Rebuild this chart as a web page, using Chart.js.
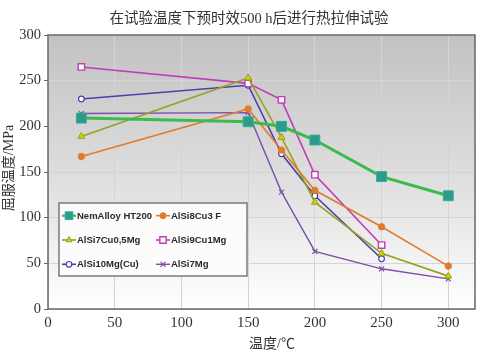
<!DOCTYPE html>
<html><head><meta charset="utf-8">
<script src="https://cdn.jsdelivr.net/npm/chart.js@4/dist/chart.umd.min.js"></script>
<style>html,body{margin:0;padding:0;background:#fff}#w{width:479px;height:357px}</style>
</head><body><div id="w"><canvas id="c" width="479" height="357"></canvas></div>
<script>
const temps = [25, 150, 175, 200, 250, 300];
const seriesNames = ['NemAlloy HT200', 'AlSi8Cu3 F', 'AlSi7Cu0,5Mg', 'AlSi9Cu1Mg', 'AlSi10Mg(Cu)', 'AlSi7Mg'];
const nemAlloy = [209, 205, 200, 185, 145, 124];
const alSi8Cu3 = [167, 219, 174, 130, 90, 47];
const alSi7Cu05Mg = [189, 253, 188, 117, 61, 36];
const alSi9Cu1Mg = [265, 247, 229, 147, 70, null];
const alSi10MgCu = [230, 245, 170, 124, 55, null];
const alSi7Mg = [214, 215, 128, 63, 44, 33];
const xTicks = [0, 50, 100, 150, 200, 250, 300];
const yTicks = [0, 50, 100, 150, 200, 250, 300];
const chartTitle = '在试验温度下预时效500 h后进行热拉伸试验';
const xTitle = '温度/℃';
const yTitle = '屈服温度/MPa';

const values = [nemAlloy, alSi8Cu3, alSi7Cu05Mg, alSi9Cu1Mg, alSi10MgCu, alSi7Mg];
const styles = [
  {line:'#3dba4c', width:3, point:'rect', r:7, fill:'#2b9c8c', border:'#3aa898', bw:1, lr:5.5},
  {line:'#e07c2e', width:1.6, point:'circle', r:3.2, fill:'#e07c2e', border:'#e07c2e', bw:1, lr:3},
  {line:'#98a020', width:1.6, point:'triangle', r:4, fill:'#cdd400', border:'#98a020', bw:1, lr:3.5},
  {line:'#c23cb8', width:1.6, point:'rect', r:4.5, fill:'#ffffff', border:'#c23cb8', bw:1.4, lr:4.5},
  {line:'#4b40a8', width:1.6, point:'circle', r:2.8, fill:'#ffffff', border:'#4b40a8', bw:1.2, lr:2.8},
  {line:'#7b50aa', width:1.4, point:'crossRot', r:3.5, fill:'#7b50aa', border:'#7b50aa', bw:1.2, lr:3.5}
];
const serif = "'Liberation Serif','Noto Sans CJK SC',serif";
const datasets = values.map((v, i) => ({
  label: seriesNames[i],
  data: temps.map((t, j) => ({x: t, y: v[j]})).filter(p => p.y !== null),
  borderColor: styles[i].line,
  borderWidth: styles[i].width,
  pointStyle: styles[i].point,
  pointRadius: styles[i].r,
  pointBackgroundColor: styles[i].fill,
  pointBorderColor: styles[i].border,
  pointBorderWidth: styles[i].bw,
  legendRadius: styles[i].lr,
  tension: 0,
  fill: false
}));

const bgPlugin = {
  id: 'bg',
  beforeDraw(chart) {
    const {ctx, chartArea: a} = chart;
    const g = ctx.createLinearGradient(0, a.top, 0, a.bottom);
    g.addColorStop(0, '#c2c2c2');
    g.addColorStop(0.55, '#e0e0e0');
    g.addColorStop(1, '#ffffff');
    ctx.save(); ctx.fillStyle = g; ctx.fillRect(a.left, a.top, a.right - a.left, a.bottom - a.top); ctx.restore();
  },
  afterDraw(chart) {
    const {ctx, chartArea: a} = chart;
    ctx.save();
    ctx.strokeStyle = '#6e6464'; ctx.lineWidth = 1.5;
    ctx.strokeRect(a.left, a.top, a.right - a.left, a.bottom - a.top);
    // titles
    ctx.fillStyle = '#333';
    ctx.textAlign = 'center'; ctx.textBaseline = 'middle';
    ctx.font = "14.5px " + serif;
    ctx.fillText(chartTitle, 249, 19);
    ctx.font = "14px " + serif;
    ctx.fillText(xTitle, 272, 344);
    ctx.save();
    ctx.translate(9, 168); ctx.rotate(-Math.PI / 2);
    ctx.font = "14px " + serif;
    ctx.fillText(yTitle, 0, 0);
    ctx.restore();
    // legend
    const bx = 59, by = 203, bw = 188, bh = 73;
    ctx.fillStyle = 'rgba(252,252,252,0.95)';
    ctx.fillRect(bx, by, bw, bh);
    ctx.strokeStyle = '#6e6464'; ctx.lineWidth = 1.3;
    ctx.strokeRect(bx, by, bw, bh);
    ctx.font = "bold 9.5px 'Liberation Sans',Arial,sans-serif";
    ctx.textAlign = 'left'; ctx.textBaseline = 'middle';
    chart.data.datasets.forEach((ds, i) => {
      const col = i % 2, row = Math.floor(i / 2);
      const x0 = col === 0 ? 62 : 156, y0 = 215.7 + row * 24.3;
      ctx.strokeStyle = ds.borderColor; ctx.lineWidth = Math.min(ds.borderWidth, 2.2);
      ctx.beginPath(); ctx.moveTo(x0, y0); ctx.lineTo(x0 + 14, y0); ctx.stroke();
      ctx.fillStyle = ds.pointBackgroundColor; ctx.strokeStyle = ds.pointBorderColor; ctx.lineWidth = ds.pointBorderWidth;
      Chart.helpers.drawPoint(ctx, {pointStyle: ds.pointStyle, radius: ds.legendRadius, borderWidth: ds.pointBorderWidth}, x0 + 7, y0);
      ctx.fillStyle = '#2a2a2a';
      ctx.fillText(ds.label, x0 + 15, y0 + 0.5);
    });
    ctx.restore();
  }
};

new Chart(document.getElementById('c'), {
  type: 'line',
  data: {datasets},
  options: {
    responsive: false,
    animation: false,
    layout: {autoPadding: false, padding: {left: 0, right: 4, top: 35, bottom: 0}},
    plugins: {
      legend: {display: false},
      tooltip: {enabled: false},
      title: {display: false}
    },
    scales: {
      x: {
        type: 'linear', min: 0, max: 320,
        afterBuildTicks(s) { s.ticks = xTicks.map(v => ({value: v})); },
        afterFit(s) { s.height = 48; s.paddingRight = 0; s.paddingLeft = 0; },
        ticks: {color: '#333', font: {family: serif, size: 15}, padding: 5},
        grid: {color: '#d4d4d4', lineWidth: 1, drawTicks: false},
        border: {display: false},
        title: {display: false}
      },
      y: {
        min: 0, max: 300,
        afterBuildTicks(s) { s.ticks = yTicks.map(v => ({value: v})); },
        afterFit(s) { s.width = 48; s.paddingTop = 0; s.paddingBottom = 0; },
        ticks: {color: '#333', font: {family: serif, size: 14.5}, padding: 3},
        grid: {color: '#d4d4d4', lineWidth: 1, tickColor: '#6e6464', tickLength: 4},
        border: {display: false},
        title: {display: false}
      }
    }
  },
  plugins: [bgPlugin]
});
</script></body></html>
